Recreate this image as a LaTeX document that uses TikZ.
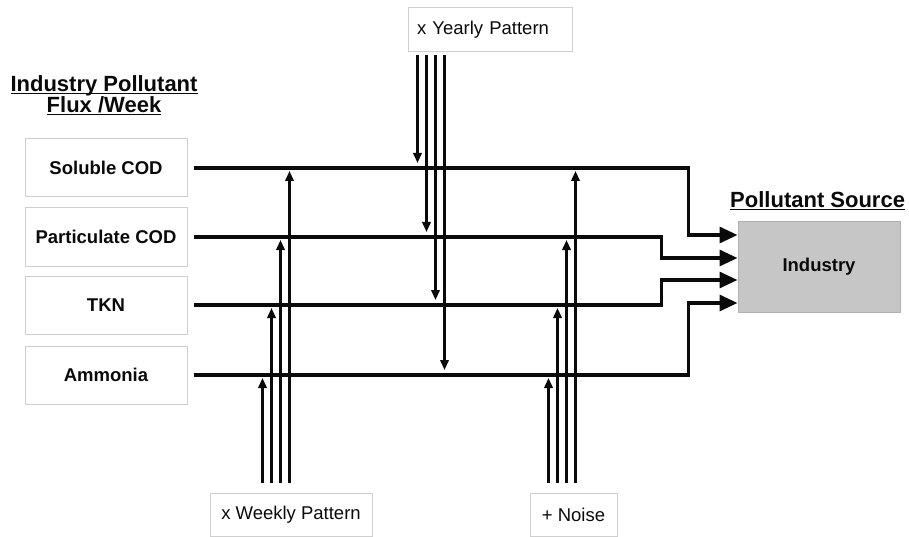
\documentclass[tikz,border=0pt]{standalone}
\usepackage{fontspec}
\setmainfont{Liberation Sans}
\usetikzlibrary{arrows.meta}
\newcommand{\myul}[1]{\setbox0\hbox{#1}\rlap{\rule[-2.4pt]{\wd0}{1.6pt}}\box0}
\definecolor{boxgray}{HTML}{CFCFCF}
\definecolor{indfill}{HTML}{C6C6C6}
\definecolor{indline}{HTML}{B0B0B0}
\definecolor{ink}{HTML}{0A0A0A}
\begin{document}
\begin{tikzpicture}[x=1pt,y=-1pt,
  lbox/.style={draw=boxgray,line width=1pt,minimum width=162pt,minimum height=58pt,inner sep=0pt,font=\fontsize{18.5}{22}\selectfont\bfseries,text=ink},
  pbox/.style={draw=boxgray,line width=1pt,minimum height=43pt,inner sep=0pt,font=\fontsize{18.5}{22}\selectfont,text=ink},
  titletext/.style={font=\fontsize{22}{26}\selectfont\bfseries,text=ink,inner sep=0pt},
  mainflow/.style={draw=ink,line width=3.2pt,-{Triangle[length=18pt,width=16pt]}},
  modarrow/.style={draw=ink,line width=2.1pt,-{Triangle[length=10pt,width=8.5pt]}}
]
\useasboundingbox (0,0) rectangle (909,537);

% titles
\node[titletext,anchor=base] (t1) at (104,92) {\myul{Industry Pollutant}};
\node[titletext,anchor=base] (t2) at (104,113) {\myul{Flux /Week}};
\node[titletext,anchor=base west] (t3) at (730,208) {\myul{Pollutant Source}};

% left boxes
\node[lbox] (sol) at (106,168) {Soluble COD};
\node[lbox] (par) at (106,237) {Particulate COD};
\node[lbox] (tkn) at (106,305) {TKN};
\node[lbox] (amm) at (106,375) {Ammonia};

% pattern boxes
\node[pbox,minimum width=164pt,minimum height=44pt,text width=146pt,align=left,inner xsep=9pt] (yr) at (490,30) {x Yearly Pattern};
\node[pbox,minimum width=162pt] (wk) at (291,515) {x Weekly Pattern};
\node[pbox,minimum width=87pt] (nz) at (573.5,515) {+ Noise};

% industry
\node[draw=indline,fill=indfill,line width=1pt,minimum width=162pt,minimum height=90pt,inner sep=0pt,font=\fontsize{18.5}{22}\selectfont\bfseries,text=ink] (ind) at (819,267) {Industry};

\coordinate (in1) at ([yshift=32pt]ind.west);
\coordinate (in2) at ([yshift=9pt]ind.west);
\coordinate (in3) at ([yshift=-13pt]ind.west);
\coordinate (in4) at ([yshift=-36pt]ind.west);

% main flows
\draw[mainflow] ([xshift=6pt]sol.east) -| ([xshift=-49pt]in1) -- (in1);
\draw[mainflow] ([xshift=6pt]par.east) -| ([xshift=-76pt]in2) -- (in2);
\draw[mainflow] ([xshift=6pt]tkn.east) -| ([xshift=-76pt]in3) -- (in3);
\draw[mainflow] ([xshift=6pt]amm.east) -| ([xshift=-49pt]in4) -- (in4);

% yearly pattern arrows
\foreach \dx/\t in {10/sol,19/par,28/tkn,37/amm}
  \draw[modarrow,shorten >=5pt] ([xshift=\dx pt,yshift=-3pt]yr.south west) -- ([xshift=\dx pt]yr.south west |- \t.east);

% weekly pattern arrows
\foreach \dx/\t in {53/amm,62/tkn,71/par,80/sol}
  \draw[modarrow,shorten >=3pt] ([xshift=\dx pt,yshift=10pt]wk.north west) -- ([xshift=\dx pt]wk.north west |- \t.east);

% noise arrows
\foreach \dx/\t in {19/amm,28/tkn,37/par,46/sol}
  \draw[modarrow,shorten >=3pt] ([xshift=\dx pt,yshift=10pt]nz.north west) -- ([xshift=\dx pt]nz.north west |- \t.east);
\end{tikzpicture}
\end{document}
